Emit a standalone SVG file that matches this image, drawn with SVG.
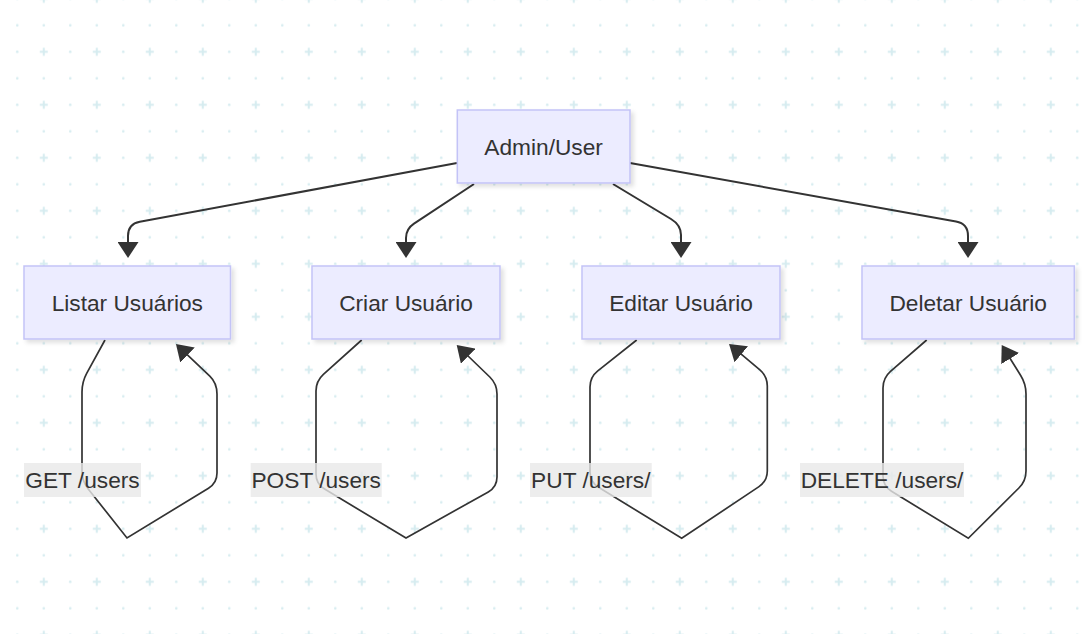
<svg xmlns="http://www.w3.org/2000/svg" width="1089" height="634" viewBox="0 0 1089 634">
  <defs>
    <pattern id="grid" patternUnits="userSpaceOnUse" x="4.05" y="-14.45" width="53" height="53">
      <circle cx="13.25" cy="13.25" r="1.3" fill="#d6ecf0"/>
      <circle cx="13.25" cy="39.75" r="1.3" fill="#d6ecf0"/>
      <circle cx="39.75" cy="39.75" r="1.3" fill="#d6ecf0"/>
      <path d="M35.75,13.25 H43.75 M39.75,9.25 V17.25" stroke="#d6ecf0" stroke-width="2" fill="none"/>
    </pattern>
    <marker id="arrow" markerUnits="userSpaceOnUse" viewBox="0 0 16 21" markerWidth="16" markerHeight="21" refX="6" refY="10.5" orient="auto">
      <path d="M0,0 L16,10.5 L0,21 z" fill="#333333"/>
    </marker>
    <filter id="shadow" x="-10%" y="-10%" width="130%" height="140%">
      <feDropShadow dx="3" dy="3" stdDeviation="2" flood-color="#000000" flood-opacity="0.12"/>
    </filter>
    <style>
      .node rect { fill: #ececff; stroke: #c3c3f7; stroke-width: 1.5; filter: url(#shadow); }
      .node text, .label text { font-family: "Liberation Sans", Arial, sans-serif; font-size: 22.7px; fill: #333333; text-anchor: middle; dominant-baseline: central; }
      .edge { fill: none; stroke: #333333; stroke-width: 2; marker-end: url(#arrow); }
      .loop { fill: none; stroke: #333333; stroke-width: 1.7; marker-end: url(#arrow); }
      .label rect { fill: rgba(232,232,232,0.8); }
    </style>
  </defs>
  <rect width="1089" height="634" fill="#ffffff"/>
  <rect width="1089" height="634" fill="url(#grid)"/>

  <g id="connectors">
    <path class="edge" d="M457,163 L139.8,221.8 Q128,224 128,236 L128,248"/>
    <path class="edge" d="M474,184 L414,223.7 Q406,229 406,238 L406,248"/>
    <path class="edge" d="M613,184 L671,219 Q681,225 681,235 L681,248"/>
    <path class="edge" d="M630,163 L956,221.6 Q968,223.7 968,236 L968,248"/>

    <path class="loop" d="M105,340 L86.8,373.2 Q82,382 82,392 L82,471 Q82,481 88.2,488.9 L127,538 L208.5,488.2 Q217,483 217,473 L217,394 Q217,383 209.8,376.1 L183.2,350.9"/>
    <path class="loop" d="M361.7,340 L323.4,374.3 Q316,381 316,391 L316,474 Q316,484 324.6,489.1 L406,538 L488.3,491.9 Q497,487 497,477 L497,394 Q497,384 489.8,377 L463.9,352"/>
    <path class="loop" d="M636.7,340 L597.8,370.8 Q590,377 590,387 L590,472 Q590,482 598.5,487.2 L681.7,538.3 L759,486.6 Q767.3,481 767.3,471 L767.3,386 Q767.3,376 759.6,369.6 L736.7,350.4"/>
    <path class="loop" d="M926.7,340 L890.5,371.4 Q883,378 883,388 L883,476 Q883,486 891.5,491.2 L968.3,538.3 L1018.9,488 Q1026,481 1026,471 L1026,394 Q1026,384 1020.7,375.5 L1007,353.5"/>
  </g>

  <g id="edge-labels">
    <g class="label" id="label-get"><rect x="24" y="463" width="117" height="34"/><text x="82.5" y="480">GET /users</text></g>
    <g class="label" id="label-post"><rect x="250.7" y="463" width="131" height="34"/><text x="316.2" y="480">POST /users</text></g>
    <g class="label" id="label-put"><rect x="530" y="463" width="121.7" height="34"/><text x="590.8" y="480">PUT /users/</text></g>
    <g class="label" id="label-delete"><rect x="800" y="463" width="164" height="34"/><text x="882" y="480">DELETE /users/</text></g>
  </g>

  <g class="node" id="node-admin"><rect x="457.3" y="110" width="172.7" height="73"/><text x="543.6" y="146.5">Admin/User</text></g>
  <g class="node" id="node-listar"><rect x="24" y="266" width="206.5" height="73"/><text x="127.3" y="302.5">Listar Usuários</text></g>
  <g class="node" id="node-criar"><rect x="312" y="266" width="188" height="73"/><text x="406" y="302.5">Criar Usuário</text></g>
  <g class="node" id="node-editar"><rect x="582" y="266" width="198" height="73"/><text x="681" y="302.5">Editar Usuário</text></g>
  <g class="node" id="node-deletar"><rect x="862" y="266" width="212.3" height="73"/><text x="968.2" y="302.5">Deletar Usuário</text></g>
</svg>
